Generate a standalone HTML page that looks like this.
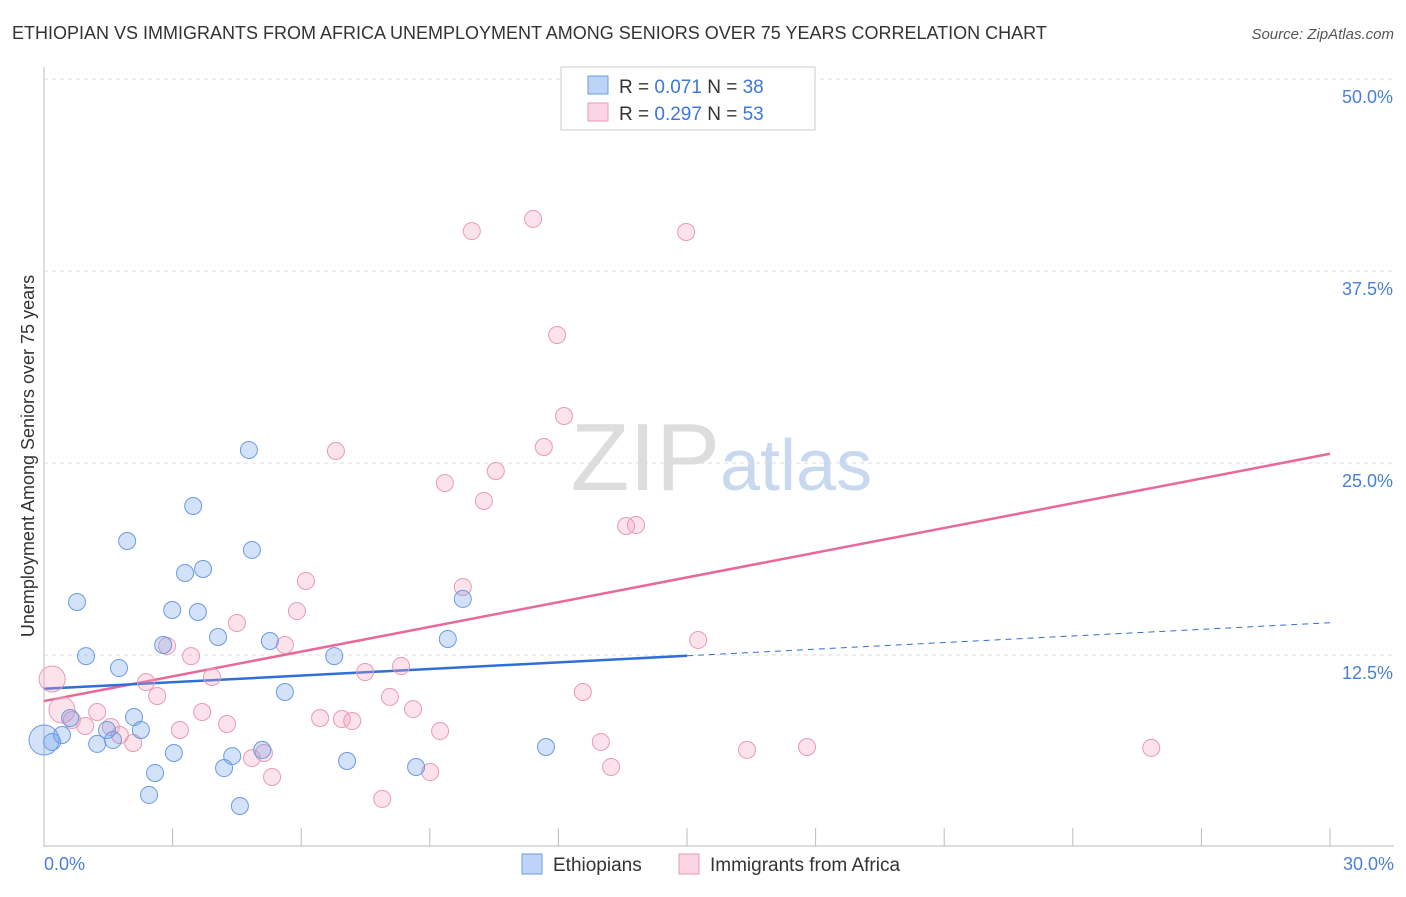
<!DOCTYPE html>
<html><head><meta charset="utf-8"><style>
body{margin:0;background:#fff;font-family:"Liberation Sans",sans-serif}
svg text{font-family:"Liberation Sans",sans-serif}
</style></head><body>
<svg id="c" width="1406" height="892" viewBox="0 0 1406 892">
<text x="12" y="39" font-size="18" fill="#333">ETHIOPIAN VS IMMIGRANTS FROM AFRICA UNEMPLOYMENT AMONG SENIORS OVER 75 YEARS CORRELATION CHART</text>
<text x="1394" y="39" font-size="15" fill="#555" text-anchor="end" font-style="italic">Source: ZipAtlas.com</text>
<text x="720" y="490" font-size="96" fill="#ddd" text-anchor="end" font-family="Liberation Serif">ZIP</text>
<text x="720" y="490" font-size="72" fill="#c8d8ee">atlas</text>
<g id="grid"></g><g id="axes"></g><g id="lines"></g><g id="pts"></g>
<text transform="translate(34,456) rotate(-90)" font-size="18" fill="#333" text-anchor="middle">Unemployment Among Seniors over 75 years</text>
<text x="44" y="870" font-size="18" fill="#4a7fd6">0.0%</text>
<text x="1394" y="870" font-size="18" fill="#4a7fd6" text-anchor="end">30.0%</text>
<g>
<rect x="561" y="67" width="254" height="63" fill="#fff" stroke="#ccc"/>
<rect x="588" y="76" width="20" height="18" fill="rgba(110,160,235,0.45)" stroke="#6a9be0"/>
<text x="619" y="93" font-size="19" fill="#333">R = <tspan fill="#3b78d8">0.071</tspan>   N = <tspan fill="#3b78d8">38</tspan></text>
<rect x="588" y="103" width="20" height="18" fill="rgba(245,160,190,0.45)" stroke="#e89ab5"/>
<text x="619" y="120" font-size="19" fill="#333">R = <tspan fill="#3b78d8">0.297</tspan>   N = <tspan fill="#3b78d8">53</tspan></text>
</g>
<g>
<rect x="522" y="854" width="20" height="20" fill="rgba(110,160,235,0.45)" stroke="#6a9be0"/>
<text x="553" y="871" font-size="19" fill="#333">Ethiopians</text>
<rect x="679" y="854" width="20" height="20" fill="rgba(245,160,190,0.45)" stroke="#e89ab5"/>
<text x="710" y="871" font-size="19" fill="#333">Immigrants from Africa</text>
</g>
</svg>
<script>
const yTicks=[12.5,25,37.5,50];
const yTickLabels=["12.5%","25.0%","37.5%","50.0%"];
const xTicks=[0,3,6,9,12,15,18,21,24,27,30];
const blueX=[0,0.19,0.42,0.61,0.77,0.98,1.24,1.47,1.61,1.75,1.94,2.10,2.26,2.45,2.59,2.78,2.99,3.03,3.29,3.48,3.59,3.71,4.06,4.20,4.39,4.57,4.78,4.85,5.09,5.27,5.62,6.77,7.07,8.68,9.42,9.77,11.71];
const blueY=[6.97,6.84,7.29,8.40,15.95,12.43,6.71,7.62,6.97,11.65,19.92,8.46,7.62,3.39,4.82,13.15,15.43,6.12,17.84,22.20,15.30,18.10,13.67,5.14,5.92,2.67,25.85,19.34,6.32,13.41,10.09,12.43,5.60,5.21,13.54,16.15,6.51];
const pinkX=[0.19,0.42,0.65,0.96,1.24,1.56,1.77,2.08,2.38,2.64,2.87,3.17,3.43,3.69,3.92,4.27,4.50,4.85,5.13,5.32,5.62,5.90,6.11,6.44,6.81,6.95,7.19,7.49,7.89,8.07,8.33,8.61,9.01,9.24,9.35,9.77,9.98,10.26,10.54,11.41,11.66,11.97,12.13,12.57,12.99,13.23,13.58,13.81,14.98,15.26,16.40,17.80,25.83];
const pinkY=[10.94,8.92,8.27,7.88,8.79,7.81,7.29,6.77,10.74,9.83,13.09,7.62,12.43,8.79,11.07,8.01,14.58,5.79,6.12,4.56,13.15,15.36,17.32,8.40,25.78,8.33,8.20,11.39,3.13,9.77,11.78,8.98,4.88,7.55,23.70,16.93,40.10,22.53,24.48,40.89,26.04,33.33,28.06,10.09,6.84,5.21,20.90,20.96,40.04,13.48,6.32,6.51,6.45];
const blueTrend=[10.3,14.6]; // y at x=0 and x=30
const pinkTrend=[9.5,25.6];
const blueSolidEnd=15;
const NS="http://www.w3.org/2000/svg";
const X=v=>44+v*1286/30, Y=v=>847-v*15.36;
function mk(t,a,p){const e=document.createElementNS(NS,t);for(const k in a)e.setAttribute(k,a[k]);p.appendChild(e);return e;}
const grid=document.getElementById('grid'),axes=document.getElementById('axes'),lines=document.getElementById('lines'),pts=document.getElementById('pts');
yTicks.forEach((t,i)=>{
 const l=mk('line',{x1:44,x2:1394,y1:Y(t),y2:Y(t),stroke:'#ddd','stroke-dasharray':'4,4'},grid);
 
 
 const tx=mk('text',{x:1393,y:Y(t)+24,'font-size':18,fill:'#4a7fd6','text-anchor':'end'},grid);
 tx.textContent=yTickLabels[i];
 
 
});
const ax=mk('line',{x1:44,x2:44,y1:67,y2:847,stroke:'#bbb'},axes);


const bx=mk('line',{x1:44,x2:1394,y1:846,y2:846,stroke:'#bbb'},axes);


xTicks.forEach(t=>{
 const l=mk('line',{x1:X(t),x2:X(t),y1:828,y2:846,stroke:'#bbb'},axes);
 
 
});
function dot(x,y,r,fill,stroke,name){
 const c=mk('circle',{cx:X(x),cy:Y(y),r:r,fill:fill,stroke:stroke,'stroke-width':1},pts);
 
 
}
pinkX.forEach((x,i)=>dot(x,pinkY[i],i<2?13:8.5,'rgba(245,160,190,0.3)','#e89ab5','pink-point'));
blueX.forEach((x,i)=>dot(x,blueY[i],i==0?15:8.5,'rgba(110,160,235,0.3)','#6a9be0','blue-point'));
const bAt=x=>blueTrend[0]+(blueTrend[1]-blueTrend[0])*x/30;
const pl=mk('line',{x1:X(0),y1:Y(pinkTrend[0]),x2:X(30),y2:Y(pinkTrend[1]),stroke:'#e8689a','stroke-width':2.5},lines);


const bl=mk('line',{x1:X(0),y1:Y(bAt(0)),x2:X(blueSolidEnd),y2:Y(bAt(blueSolidEnd)),stroke:'#2f6fd6','stroke-width':2.5},lines);


const bd=mk('line',{x1:X(blueSolidEnd),y1:Y(bAt(blueSolidEnd)),x2:X(30),y2:Y(bAt(30)),stroke:'#2f6fd6','stroke-width':1,'stroke-dasharray':'6,5'},lines);


</script>
</body></html>
